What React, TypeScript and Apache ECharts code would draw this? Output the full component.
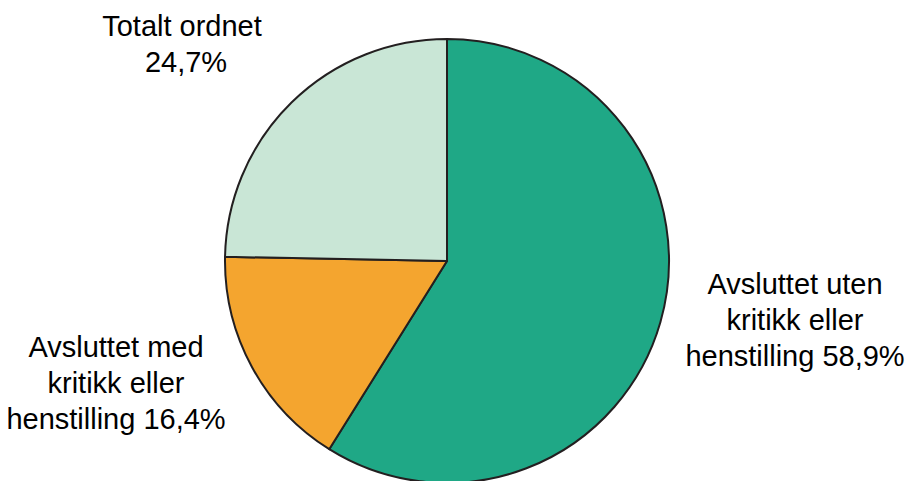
import React, { useEffect, useRef } from "react";
import * as echarts from "echarts";

const categories = [
  "Avsluttet uten\nkritikk eller\nhenstilling",
  "Avsluttet med\nkritikk eller\nhenstilling",
  "Totalt ordnet\n",
];
const values = [58.9, 16.4, 24.7];
const colors = ["#1fa886", "#f4a52f", "#c9e6d6"];
const labelPos = [
  { x: 795, y: 320 },
  { x: 116, y: 383 },
  { x: 182, y: 44 },
];

export default function App() {
  const ref = useRef<HTMLDivElement>(null);
  useEffect(() => {
    if (!ref.current) return;
    const chart = echarts.init(ref.current, null, { renderer: "svg" });
    chart.setOption({
      animation: false,
      backgroundColor: "#ffffff",
      series: [
        {
          type: "pie",
          center: [447, 261],
          radius: 222,
          startAngle: 90,
          clockwise: true,
          silent: true,
          itemStyle: { borderColor: "#231f20", borderWidth: 2 },
          label: {
            show: true,
            color: "#000",
            fontFamily: "Liberation Sans, Arial, sans-serif",
            fontSize: 29,
            lineHeight: 36,
            align: "center",
            overflow: "none",
            formatter: (p: any) =>
              p.name + " " + p.value.toFixed(1).replace(".", ",") + "%",
          },
          labelLine: { show: false },
          labelLayout: (p: any) => ({
            x: labelPos[p.dataIndex].x,
            y: labelPos[p.dataIndex].y,
            align: "center",
            verticalAlign: "middle",
          }),
          data: categories.map((c, i) => ({
            name: c,
            value: values[i],
            itemStyle: { color: colors[i] },
          })),
        },
      ],
    });
    return () => chart.dispose();
  }, []);
  return (
    <div
      ref={ref}
      style={{ position: "fixed", left: 0, top: 0, width: 908, height: 481 }}
    />
  );
}
